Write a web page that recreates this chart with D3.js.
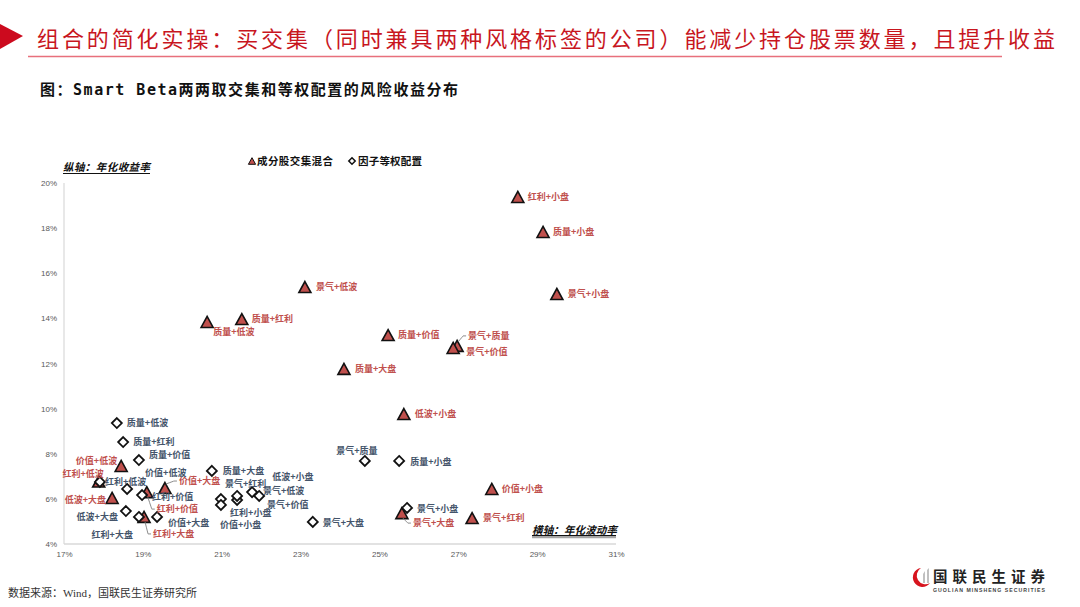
<!DOCTYPE html>
<html><head><meta charset="utf-8">
<script src="https://cdn.jsdelivr.net/npm/d3@7/dist/d3.min.js"></script>
<style>
html,body{margin:0;padding:0;background:#fff;}
svg{display:block;}
</style></head>
<body>
<svg id="chart" width="1080" height="607"></svg>
<script>
// ---------- data ----------
const mixNames = ["红利+小盘","质量+小盘","景气+小盘","景气+低波","质量+红利","质量+低波","质量+价值","景气+质量","景气+价值","质量+大盘","低波+小盘","价值+小盘","景气+红利","景气+大盘","价值+低波","红利+低波","低波+大盘","红利+价值","价值+大盘","红利+大盘"];
const mixVol = [28.51,29.15,29.50,23.11,21.51,20.63,25.22,26.97,26.87,24.10,25.62,27.85,27.35,25.57,18.45,17.88,18.22,19.10,19.56,19.03];
const mixRet = [19.38,17.83,15.08,15.39,13.97,13.84,13.26,12.78,12.69,11.76,9.76,6.44,5.15,5.37,7.46,6.77,6.04,6.30,6.48,5.20];

const eqNames = ["质量+低波","质量+红利","质量+价值","红利+低波","价值+低波","红利+价值","低波+大盘","红利+大盘","价值+大盘","质量+大盘","景气+红利","价值+小盘","红利+小盘","景气+价值","景气+低波","低波+小盘","景气+大盘","景气+质量","质量+小盘","景气+小盘"];
const eqVol = [18.34,18.50,18.90,17.91,18.60,18.98,18.57,18.90,19.36,20.75,20.98,20.98,21.39,21.39,21.77,21.95,23.31,24.63,25.50,25.70];
const eqRet = [9.36,8.52,7.72,6.75,6.44,6.17,5.46,5.20,5.20,7.24,5.99,5.73,5.95,6.13,6.30,6.13,4.98,7.68,7.68,5.60];

const xTicks = [17,19,21,23,25,27,29,31];
const yTicks = [4,6,8,10,12,14,16,18,20];
const seriesNames = ["成分股交集混合","因子等权配置"];

// ---------- label layout (pixel offsets: dx, dy, anchor, leader) ----------
const mixLabelLayout = {
  "红利+小盘":[10,0,"start"],"质量+小盘":[10,0,"start"],"景气+小盘":[11,0,"start"],
  "景气+低波":[11,0,"start"],"质量+红利":[10,0,"start"],"质量+低波":[6,10,"start"],
  "质量+价值":[10,0,"start"],"景气+质量":[11,-10,"start",true],"景气+价值":[13,4,"start"],
  "质量+大盘":[11,0,"start"],"低波+小盘":[11,0,"start"],"价值+小盘":[10,0,"start"],
  "景气+红利":[11,0,"start"],"景气+大盘":[11,10,"start",true],"价值+低波":[-4,-5,"end"],
  "红利+低波":[5,-8,"end"],"低波+大盘":[-6,2,"end"],"红利+价值":[10,17,"start",true],
  "价值+大盘":[14,-7,"start",true],"红利+大盘":[9,17,"start",true]
};
const eqLabelLayout = {
  "质量+低波":[10,0,"start"],"质量+红利":[10,0,"start"],"质量+价值":[10,-5,"start"],
  "价值+低波":[18,-16,"start"],"红利+低波":[5,0,"start"],"红利+价值":[10,2,"start"],
  "低波+大盘":[-8,6,"end"],"红利+大盘":[-6,18,"end"],"价值+大盘":[11,6,"start"],
  "质量+大盘":[11,0,"start"],"景气+红利":[4,-15,"start"],"价值+小盘":[-1,20,"start"],
  "红利+小盘":[-7,13,"start"],"景气+价值":[30,9,"start"],"景气+低波":[11,-1,"start"],
  "低波+小盘":[13,-19,"start"],"景气+大盘":[10,1,"start"],"景气+质量":[-8,-10,"middle"],
  "质量+小盘":[11,1,"start"],"景气+小盘":[10,1,"start"]
};

// ---------- drawing ----------
const svg = d3.select("#chart");
const CJK = "'Noto Sans CJK SC','Noto Sans',sans-serif";
const red = "#c8161e";

// header
svg.append("path").attr("d","M0,24 L23,36 L0,49 Z").attr("fill","#cc0a1e");
svg.append("text").attr("x",37).attr("y",46.5)
  .attr("font-family",CJK).attr("font-size",22).attr("fill",red)
  .attr("textLength",1018).attr("lengthAdjust","spacing")
  .text("组合的简化实操：买交集（同时兼具两种风格标签的公司）能减少持仓股票数量，且提升收益");
svg.append("line").attr("x1",28).attr("x2",1002).attr("y1",56.5).attr("y2",56.5)
  .attr("stroke","#e8707c").attr("stroke-width",1.5);

svg.append("text").attr("x",40).attr("y",94.5)
  .attr("font-family","'DejaVu Sans Mono','Noto Sans CJK SC',monospace")
  .attr("font-size",15).attr("font-weight","bold").attr("fill","#111")
  .attr("textLength",418).attr("lengthAdjust","spacing")
  .text("图：Smart Beta两两取交集和等权配置的风险收益分布");

// scales
const x = d3.scaleLinear().domain([17,31]).range([64,616]);
const y = d3.scaleLinear().domain([4,20]).range([544,183]);

// axes lines
svg.append("line").attr("x1",x(17)).attr("x2",x(17)).attr("y1",y(20)).attr("y2",y(4))
  .attr("stroke","#d9d9d9").attr("stroke-width",1.2);
svg.append("line").attr("x1",x(17)).attr("x2",x(31)).attr("y1",y(4)).attr("y2",y(4))
  .attr("stroke","#d9d9d9").attr("stroke-width",1.5);

const yAxis = d3.axisLeft(y).tickValues(yTicks).tickSize(0).tickPadding(7).tickFormat(d=>d+"%");
const gy = svg.append("g").attr("transform",`translate(${x(17)},0)`).call(yAxis);
gy.select(".domain").remove();
gy.selectAll("text").attr("font-family","Liberation Sans, Arial, sans-serif").attr("font-size",8).attr("fill","#595959");

const xAxis = d3.axisBottom(x).tickValues(xTicks).tickSize(0).tickPadding(7).tickFormat(d=>d+"%");
const gx = svg.append("g").attr("transform",`translate(0,${y(4)})`).call(xAxis);
gx.select(".domain").remove();
gx.selectAll("text").attr("font-family","Liberation Sans, Arial, sans-serif").attr("font-size",8).attr("fill","#595959");

// axis titles
svg.append("text").attr("x",63).attr("y",171).attr("font-family",CJK).attr("font-size",10.5)
  .attr("font-weight","bold").attr("font-style","italic").attr("fill","#111")
  .attr("textLength",87).attr("lengthAdjust","spacing").text("纵轴：年化收益率");
svg.append("line").attr("x1",63).attr("x2",150).attr("y1",173.5).attr("y2",173.5).attr("stroke","#111").attr("stroke-width",1);

svg.append("line").attr("x1",532).attr("x2",616).attr("y1",537).attr("y2",537).attr("stroke","#a6a6a6").attr("stroke-width",2.5);
svg.append("text").attr("x",532).attr("y",534).attr("font-family",CJK).attr("font-size",10.5)
  .attr("font-weight","bold").attr("font-style","italic").attr("fill","#111")
  .attr("textLength",85).attr("lengthAdjust","spacing").text("横轴：年化波动率");
svg.append("line").attr("x1",532).attr("x2",616).attr("y1",535.5).attr("y2",535.5).attr("stroke","#111").attr("stroke-width",1);

// marker shapes
const triPath = "M0,-5.5 L6,5.5 L-6,5.5 Z";
const diaPath = "M0,-5 L5,0 L0,5 L-5,0 Z";

// legend
svg.append("path").attr("d","M0,-3.3 L3.6,3.3 L-3.6,3.3 Z").attr("transform","translate(252,161)")
  .attr("fill","#c0504d").attr("stroke","#111").attr("stroke-width",1);
svg.append("text").attr("x",257).attr("y",165).attr("font-family",CJK).attr("font-size",10.5)
  .attr("font-weight","bold").attr("fill","#111").attr("textLength",76).attr("lengthAdjust","spacing").text(seriesNames[0]);
svg.append("path").attr("d","M0,-3.2 L3.2,0 L0,3.2 L-3.2,0 Z").attr("transform","translate(352,161)")
  .attr("fill","#fff").attr("stroke","#111").attr("stroke-width",1.5);
svg.append("text").attr("x",358).attr("y",165).attr("font-family",CJK).attr("font-size",10.5)
  .attr("font-weight","bold").attr("fill","#111").attr("textLength",64).attr("lengthAdjust","spacing").text(seriesNames[1]);

const mixData = mixNames.map((n,i)=>({name:n,vol:mixVol[i],ret:mixRet[i]}));
const eqData = eqNames.map((n,i)=>({name:n,vol:eqVol[i],ret:eqRet[i]}));

// markers
svg.append("g").selectAll("path").data(mixData).join("path")
  .attr("d",triPath).attr("transform",d=>`translate(${x(d.vol)},${y(d.ret)})`)
  .attr("fill","#c0504d").attr("stroke","#111").attr("stroke-width",1.6).attr("stroke-linejoin","miter");
svg.append("g").selectAll("path").data(eqData).join("path")
  .attr("d",diaPath).attr("transform",d=>`translate(${x(d.vol)},${y(d.ret)})`)
  .attr("fill","#fff").attr("stroke","#111").attr("stroke-width",1.8);

// labels
function drawLabels(data, layout, color){
  const g = svg.append("g");
  data.forEach(d=>{
    const px = x(d.vol), py = y(d.ret);
    const L = layout[d.name];
    const lx = px + L[0], ly = py + L[1];
    if (L[3]) {
      const sy = L[1] > 0 ? py + 5 : py - 4;
      g.append("path").attr("d",`M${px+1},${sy} Q${lx-5},${ly} ${lx-5},${ly} L${lx-2},${ly}`)
        .attr("fill","none").attr("stroke","#7f7f7f").attr("stroke-width",0.9);
    }
    g.append("text").attr("x",lx).attr("y",ly+3.2).attr("text-anchor",L[2])
      .attr("font-family",CJK).attr("font-size",9).attr("font-weight","bold")
      .attr("fill",color).text(d.name);
  });
}
drawLabels(mixData, mixLabelLayout, "#c0504d");
drawLabels(eqData, eqLabelLayout, "#44546a");

// footer
svg.append("text").attr("x",8).attr("y",597).attr("font-family","'Liberation Serif','Noto Sans CJK SC',serif")
  .attr("font-size",11).attr("fill","#333").text("数据来源：Wind，国联民生证券研究所");

// logo
const logo = svg.append("g");
logo.append("path").attr("d","M921,568 A9.5,9.5 0 1,0 930,583 A7,7 0 0,1 921,568 Z").attr("fill","#d7141e");
logo.append("path").attr("d","M923,583 L923,574 L925,571 L925,583 Z M927,583 L927,570 L929,568 L929,583 Z").attr("fill","#c0c0c0");
logo.append("text").attr("x",933).attr("y",582).attr("font-family",CJK).attr("font-size",14.5)
  .attr("font-weight","bold").attr("fill","#222").attr("textLength",112).attr("lengthAdjust","spacing").text("国联民生证券");
logo.append("text").attr("x",933).attr("y",592).attr("font-family","Liberation Sans, Arial, sans-serif").attr("font-size",5.2)
  .attr("font-weight","bold").attr("fill","#444").attr("textLength",112).attr("lengthAdjust","spacing").text("GUOLIAN MINSHENG SECURITIES");
</script>
</body></html>
